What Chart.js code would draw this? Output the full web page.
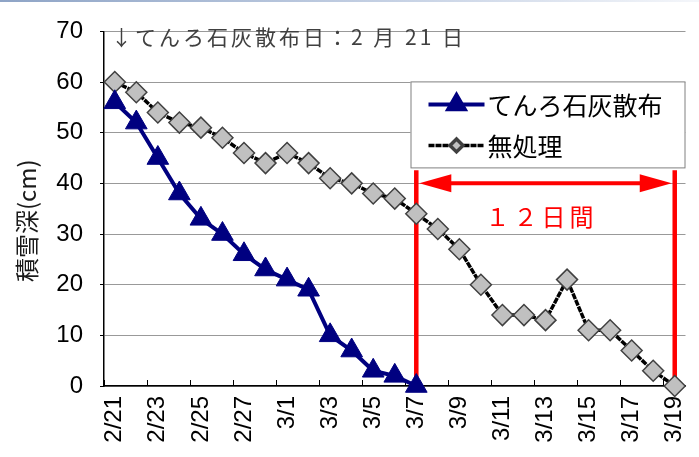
<!DOCTYPE html>
<html>
<head>
<meta charset="utf-8">
<script src="https://cdn.jsdelivr.net/npm/chart.js@4.4.1/dist/chart.umd.min.js"></script>
<style>
  html, body { margin: 0; padding: 0; background: #fff; }
  #wrap { position: relative; width: 699px; height: 457px; }
  #topline { position: absolute; left: 0; top: 0; width: 699px; height: 2px;
    background: linear-gradient(to right, #8ea4c6, #c9d4e6 60%, #f4f6fa); }
</style>
</head>
<body>
<div id="wrap">
  <canvas id="snow" width="699" height="457"></canvas>
  <div id="topline"></div>
</div>
<script>
// 日付 (2/21 - 3/19)
const dates = ['2/21','2/22','2/23','2/24','2/25','2/26','2/27','2/28',
  '3/1','3/2','3/3','3/4','3/5','3/6','3/7','3/8','3/9','3/10','3/11',
  '3/12','3/13','3/14','3/15','3/16','3/17','3/18','3/19'];

// 積雪深 (cm)
const limeDepth = [56, 52, 45, 38, 33, 30, 26, 23, 21, 19, 10, 7, 3, 2, 0];
const controlDepth = [60, 58, 54, 52, 51, 49, 46, 44, 46, 44, 41, 40, 38, 37, 34,
  31, 27, 20, 14, 14, 13, 21, 11, 11, 7, 3, 0];

const seriesNames = ['てんろ石灰散布', '無処理'];

// 消雪日の差
const spanStart = '3/7';
const spanEnd = '3/19';
const spanLabel = '１２日間';
const spanTopValue = 42.6;
const arrowValue = 40;
const spanTextValue = 33.3;

const noteText = '↓てんろ石灰散布日：2 月 21 日';

const spanPlugin = {
  id: 'span',
  beforeDatasetsDraw(chart) {
    const { ctx, scales: { x, y } } = chart;
    const x1 = x.getPixelForValue(dates.indexOf(spanStart));
    const x2 = x.getPixelForValue(dates.indexOf(spanEnd));
    const yTop = y.getPixelForValue(spanTopValue);
    const yBot = y.getPixelForValue(0);
    const ya = y.getPixelForValue(arrowValue);
    ctx.save();
    ctx.strokeStyle = '#ff0000';
    ctx.fillStyle = '#ff0000';
    ctx.lineWidth = 4.5;
    ctx.beginPath();
    ctx.moveTo(x1, yTop); ctx.lineTo(x1, yBot);
    ctx.moveTo(x2, yTop); ctx.lineTo(x2, yBot);
    ctx.stroke();
    // arrow
    ctx.lineWidth = 4;
    ctx.beginPath();
    ctx.moveTo(x1 + 20, ya); ctx.lineTo(x2 - 20, ya);
    ctx.stroke();
    const hl = 32, hw = 9;
    ctx.beginPath();
    ctx.moveTo(x1 + 3, ya); ctx.lineTo(x1 + 3 + hl, ya - hw); ctx.lineTo(x1 + 3 + hl, ya + hw);
    ctx.closePath(); ctx.fill();
    ctx.beginPath();
    ctx.moveTo(x2 - 3, ya); ctx.lineTo(x2 - 3 - hl, ya - hw); ctx.lineTo(x2 - 3 - hl, ya + hw);
    ctx.closePath(); ctx.fill();
    ctx.font = '24px "Noto Sans CJK JP"';
    if ('letterSpacing' in ctx) ctx.letterSpacing = '4px';
    ctx.textAlign = 'center';
    ctx.textBaseline = 'middle';
    ctx.fillText(spanLabel, (x1 + x2) / 2 - 4, y.getPixelForValue(spanTextValue));
    ctx.restore();
  }
};

const legendPlugin = {
  id: 'boxLegend',
  afterDatasetsDraw(chart) {
    const { ctx, chartArea } = chart;
    const w = 275, h = 87;
    const bx = chartArea.right - w, by = chartArea.top + 50;
    ctx.save();
    ctx.fillStyle = '#fff';
    ctx.fillRect(bx, by, w, h);
    ctx.strokeStyle = '#808080';
    ctx.lineWidth = 1;
    ctx.strokeRect(bx + 0.5, by + 0.5, w - 1, h - 1);
    chart.data.datasets.forEach((ds, i) => {
      const cy = by + 23 + i * 41;
      const lx1 = bx + 18, lx2 = bx + 74;
      ctx.strokeStyle = ds.borderColor;
      ctx.lineWidth = ds.borderWidth;
      ctx.setLineDash(ds.borderDash || []);
      ctx.beginPath(); ctx.moveTo(lx1, cy); ctx.lineTo(lx2, cy); ctx.stroke();
      ctx.setLineDash([]);
      ctx.fillStyle = ds.pointBackgroundColor;
      ctx.strokeStyle = ds.pointBorderColor;
      Chart.helpers.drawPoint(ctx, {
        pointStyle: ds.pointStyle,
        radius: i === 0 ? 9.5 : 6.5,
        rotation: 0,
        borderWidth: ds.pointBorderWidth
      }, (lx1 + lx2) / 2, cy);
      ctx.fillStyle = '#000';
      ctx.font = '25px "Noto Sans CJK JP"';
      ctx.textAlign = 'left';
      ctx.textBaseline = 'middle';
      ctx.fillText(ds.label, lx2 + 3, cy + 1);
    });
    ctx.restore();
  },
  afterDraw(chart) {
    const { ctx, chartArea } = chart;
    ctx.save();
    ctx.fillStyle = '#404040';
    ctx.font = '21px "Noto Sans CJK JP"';
    if ('letterSpacing' in ctx) ctx.letterSpacing = '3px';
    ctx.textBaseline = 'middle';
    ctx.fillText(noteText, chartArea.left + 7, 37);
    ctx.restore();
  }
};

new Chart(document.getElementById('snow'), {
  type: 'line',
  data: {
    labels: dates,
    datasets: [
      {
        label: seriesNames[0],
        data: limeDepth,
        borderColor: '#000080',
        borderWidth: 4,
        pointStyle: 'triangle',
        pointRadius: 12.5,
        pointHoverRadius: 12.5,
        pointBackgroundColor: '#000080',
        pointBorderColor: '#000080',
        pointBorderWidth: 1,
        tension: 0,
        clip: false
      },
      {
        label: seriesNames[1],
        data: controlDepth,
        borderColor: '#000',
        borderWidth: 3.5,
        borderDash: [6, 1],
        pointStyle: 'rectRot',
        pointRadius: 10.5,
        pointHoverRadius: 10.5,
        pointBackgroundColor: '#c0c0c0',
        pointBorderColor: '#404040',
        pointBorderWidth: 1.5,
        tension: 0,
        clip: false
      }
    ]
  },
  options: {
    responsive: false,
    animation: false,
    devicePixelRatio: 1,
    layout: { padding: { top: 20, right: 12, left: 0, bottom: 0 } },
    plugins: {
      legend: { display: false },
      tooltip: { enabled: false }
    },
    scales: {
      x: {
        offset: true,
        grid: {
          offset: true,
          drawOnChartArea: false,
          tickLength: -6,
          tickColor: ctx => (ctx.index !== undefined && ctx.index % 2 === 0) ? '#000' : 'rgba(0,0,0,0)'
        },
        border: { color: '#000', width: 1.5 },
        ticks: {
          autoSkip: false,
          maxRotation: 90,
          minRotation: 90,
          padding: 16,
          color: '#000',
          font: { family: '"Liberation Sans", Arial', size: 24 },
          callback: (v, i) => (i % 2 === 0 ? dates[i] : '')
        },
        afterFit(scale) {
          scale.height = 71;
          scale.paddingLeft = 0;
          scale.paddingRight = 0;
        }
      },
      y: {
        min: 0,
        max: 70,
        ticks: {
          stepSize: 10,
          padding: 17,
          color: '#000',
          font: { family: '"Liberation Sans", Arial', size: 24 }
        },
        grid: { color: '#999', tickColor: '#000', tickLength: 4 },
        border: { color: '#000', width: 1.5 },
        title: {
          display: true,
          text: '積雪深(cm)　',
          color: '#1a1a1a',
          font: { family: '"Noto Sans CJK JP"', size: 24 },
          padding: { top: 12, bottom: 0 }
        },
        afterFit(scale) {
          scale.width = 104;
        }
      }
    }
  },
  plugins: [spanPlugin, legendPlugin]
});
</script>
</body>
</html>
